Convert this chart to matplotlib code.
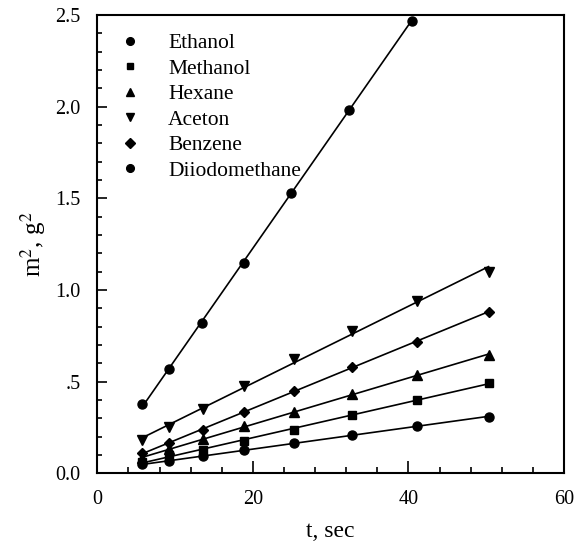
import numpy as np
import matplotlib
matplotlib.use("Agg")
import matplotlib.pyplot as plt
from matplotlib.ticker import MultipleLocator, FixedLocator, FixedFormatter

plt.rcParams['font.family'] = ['Liberation Serif', 'DejaVu Serif']
plt.rcParams['mathtext.fontset'] = 'stix'

# time points (sec) and squared mass gain (g^2) per liquid
t = [5.8, 9.2, 13.6, 18.9, 25.3, 32.7, 41.1, 50.3]
ethanol = [0.051, 0.067, 0.092, 0.125, 0.164, 0.209, 0.258, 0.309]
methanol = [0.063, 0.098, 0.128, 0.177, 0.236, 0.318, 0.400, 0.494]
hexane = [0.082, 0.130, 0.187, 0.257, 0.336, 0.431, 0.536, 0.645]
aceton = [0.182, 0.254, 0.352, 0.479, 0.622, 0.778, 0.942, 1.100]
benzene = [0.109, 0.167, 0.238, 0.334, 0.451, 0.578, 0.718, 0.882]

t_diiodo = [5.8, 9.2, 13.5, 18.8, 24.9, 32.3, 40.4]
diiodomethane = [0.378, 0.567, 0.822, 1.146, 1.528, 1.982, 2.469]

series = [
    ("Ethanol", t, ethanol, 'o', 6.5),
    ("Methanol", t, methanol, 's', 5.5),
    ("Hexane", t, hexane, '^', 6.5),
    ("Aceton", t, aceton, 'v', 6.5),
    ("Benzene", t, benzene, 'D', 5.5),
    ("Diiodomethane", t_diiodo, diiodomethane, 'o', 6.5),
]

fig = plt.figure(figsize=(5.77, 5.47), dpi=100)
ax = fig.add_axes([0.1686, 0.1347, 0.8089, 0.8379])

for name, x, y, mk, ms in series:
    x = np.array(x)
    y = np.array(y)
    # least squares line through each data set
    k, b = np.polyfit(x, y, 1)
    xx = np.array([x[0], x[-1]])
    ax.plot(xx, k * xx + b, color='black', lw=1.2)
    ax.plot(x, y, linestyle='none', marker=mk, ms=ms, color='black', label=name)

ax.set_xlim(0, 60)
ax.set_ylim(0, 2.5)
ax.xaxis.set_major_locator(FixedLocator([0, 20, 40, 60]))
ax.xaxis.set_minor_locator(MultipleLocator(4))
ax.yaxis.set_major_locator(FixedLocator([0, 0.5, 1.0, 1.5, 2.0, 2.5]))
ax.yaxis.set_major_formatter(FixedFormatter(['0.0', '.5', '1.0', '1.5', '2.0', '2.5']))
ax.yaxis.set_minor_locator(MultipleLocator(0.1))

ax.tick_params(which='both', direction='in', top=False, right=False, labelsize=14.5, width=1.2)
ax.tick_params(axis='x', which='major', length=8.5, pad=12)
ax.tick_params(axis='x', which='minor', length=4.5)
ax.tick_params(axis='y', which='major', length=7, pad=12)
ax.tick_params(axis='y', which='minor', length=3.5)
for sp in ax.spines.values():
    sp.set_linewidth(1.5)

ax.set_xlabel('t, sec', fontsize=17, labelpad=9)
ax.set_ylabel('m$^2$, g$^2$', fontsize=18, labelpad=5)

ax.legend(loc='upper left', bbox_to_anchor=(0.048, 0.96), frameon=False,
          fontsize=15.5, handlelength=1.0, handletextpad=1.25, labelspacing=0.25,
          borderpad=0, borderaxespad=0, markerscale=0.85)

fig.savefig('out.png', dpi=100)
